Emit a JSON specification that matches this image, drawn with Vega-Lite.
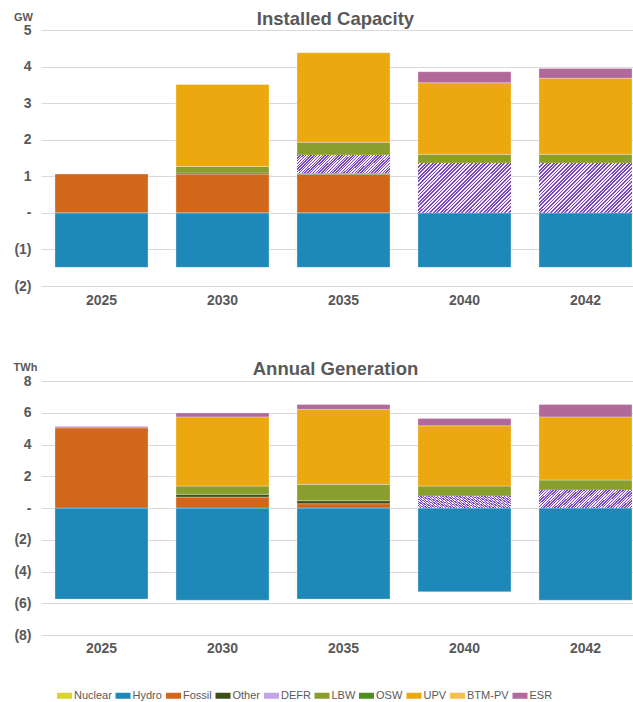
{
"$schema": "https://vega.github.io/schema/vega-lite/v6.json",
"background": "white",
"padding": {"left": 13, "top": 9, "right": 0, "bottom": 0},
"datasets": {
"cap": [
{"year": "2025", "type": "Hydro", "value": -1.49},
{"year": "2025", "type": "Fossil", "value": 1.06},
{"year": "2030", "type": "Hydro", "value": -1.49},
{"year": "2030", "type": "Fossil", "value": 1.06},
{"year": "2030", "type": "Other", "value": 0.03},
{"year": "2030", "type": "LBW", "value": 0.18},
{"year": "2030", "type": "UPV", "value": 2.24},
{"year": "2035", "type": "Hydro", "value": -1.49},
{"year": "2035", "type": "Fossil", "value": 1.05},
{"year": "2035", "type": "Other", "value": 0.03},
{"year": "2035", "type": "DEFR", "value": 0.50},
{"year": "2035", "type": "LBW", "value": 0.35},
{"year": "2035", "type": "UPV", "value": 2.45},
{"year": "2040", "type": "Hydro", "value": -1.49},
{"year": "2040", "type": "DEFR", "value": 1.36},
{"year": "2040", "type": "LBW", "value": 0.24},
{"year": "2040", "type": "UPV", "value": 1.96},
{"year": "2040", "type": "ESR", "value": 0.30},
{"year": "2042", "type": "Hydro", "value": -1.49},
{"year": "2042", "type": "DEFR", "value": 1.36},
{"year": "2042", "type": "LBW", "value": 0.24},
{"year": "2042", "type": "UPV", "value": 2.08},
{"year": "2042", "type": "ESR", "value": 0.27}
],
"gen": [
{"year": "2025", "type": "Hydro", "value": -5.74},
{"year": "2025", "type": "Fossil", "value": 5.05},
{"year": "2025", "type": "ESR", "value": 0.09},
{"year": "2030", "type": "Hydro", "value": -5.81},
{"year": "2030", "type": "Fossil", "value": 0.69},
{"year": "2030", "type": "Other", "value": 0.17},
{"year": "2030", "type": "LBW", "value": 0.52},
{"year": "2030", "type": "UPV", "value": 4.36},
{"year": "2030", "type": "ESR", "value": 0.25},
{"year": "2035", "type": "Hydro", "value": -5.74},
{"year": "2035", "type": "Fossil", "value": 0.27},
{"year": "2035", "type": "Other", "value": 0.19},
{"year": "2035", "type": "LBW", "value": 1.03},
{"year": "2035", "type": "UPV", "value": 4.72},
{"year": "2035", "type": "ESR", "value": 0.31},
{"year": "2040", "type": "Hydro", "value": -5.28},
{"year": "2040", "type": "DEFR", "value": 0.75},
{"year": "2040", "type": "LBW", "value": 0.63},
{"year": "2040", "type": "UPV", "value": 3.80},
{"year": "2040", "type": "ESR", "value": 0.46},
{"year": "2042", "type": "Hydro", "value": -5.81},
{"year": "2042", "type": "DEFR", "value": 1.13},
{"year": "2042", "type": "LBW", "value": 0.63},
{"year": "2042", "type": "UPV", "value": 3.98},
{"year": "2042", "type": "ESR", "value": 0.78}
]
},
"config": {
"font": "Liberation Sans",
"view": {"stroke": null},
"axis": {"labelFont": "Liberation Sans", "labelFontWeight": "bold", "labelFontSize": 14, "labelColor": "#595959", "gridColor": "#d9d9d9", "gridWidth": 1, "domain": false, "ticks": false},
"title": {"font": "Liberation Sans", "fontSize": 18.5, "fontWeight": "bold", "color": "#595959", "anchor": "middle", "frame": "group", "dx": -8, "offset": -17}
},
"spacing": 52,
"resolve": {"scale": {"color": "shared"}},
"vconcat": [
{
"data": {"name": "cap"},
"title": {"text": "Installed Capacity"},
"width": 605,
"height": 256,
"transform": [
{"calculate": "indexof(['Nuclear','Hydro','Fossil','Other','DEFR','LBW','OSW','UPV','BTM-PV','ESR'], datum.type)", "as": "order"},
{"stack": "value", "groupby": ["year"], "sort": [{"field": "order", "order": "ascending"}], "as": ["v0", "v1"], "offset": "zero"}
],
"encoding": {
"x": {"field": "year", "type": "nominal", "scale": {"paddingInner": 0.231, "paddingOuter": 0.1155}, "axis": {"title": null, "labelAngle": 0, "labelPadding": 7, "grid": false}},
"y": {"field": "v0", "type": "quantitative", "scale": {"domain": [-2, 5], "nice": false, "zero": false}, "axis": {"values": [-2, -1, 0, 1, 2, 3, 4, 5], "labelExpr": "datum.value == 0 ? '-' : (datum.value < 0 ? '(' + (-datum.value) + ')' : '' + datum.value)", "labelPadding": 10, "title": "GW", "titleAngle": 0, "titleAlign": "center", "titleBaseline": "alphabetic", "titleX": -18, "titleY": -10, "titleFontSize": 11, "titleFontWeight": "bold", "titleColor": "#595959", "titleFont": "Liberation Sans"}},
"y2": {"field": "v1"}
},
"layer": [
{"mark": {"type": "bar", "stroke": "#ffffff", "strokeWidth": 0.5, "strokeOpacity": 0.6},
"encoding": {"color": {"field": "type", "type": "nominal",
"scale": {"domain": ["Nuclear", "Hydro", "Fossil", "Other", "DEFR", "LBW", "OSW", "UPV", "BTM-PV", "ESR"], "range": ["#dcd42a", "#1e88b8", "#d2661a", "#3c4f16", "#c3a5e6", "#8a9e2e", "#4e8f1f", "#eca90f", "#f0c050", "#b0699a"]},
"legend": {"orient": "none", "legendX": 16, "legendY": 658, "direction": "horizontal", "columns": 10, "title": null, "symbolType": "M-1,-0.4H1V0.4H-1Z", "symbolSize": 225, "symbolStrokeWidth": 0, "labelFont": "Liberation Sans", "labelFontSize": 11, "labelColor": "#595959", "labelOffset": 2, "columnPadding": 3.5}}}},
{"transform": [{"filter": "datum.type == 'DEFR' && datum.year == '2035'"}], "mark": {"type": "bar", "fill": {"gradient": "linear", "x1": 0, "y1": 0, "x2": 1.153, "y2": 0.229, "stops": [
{"offset":0,"color":"#7b48c2"},
{"offset":0.0125,"color":"#7b48c2"},{"offset":0.0125,"color":"#f2ecfa"},{"offset":0.025,"color":"#f2ecfa"},{"offset":0.025,"color":"#7b48c2"},
{"offset":0.0375,"color":"#7b48c2"},{"offset":0.0375,"color":"#f2ecfa"},{"offset":0.05,"color":"#f2ecfa"},{"offset":0.05,"color":"#7b48c2"},
{"offset":0.0625,"color":"#7b48c2"},{"offset":0.0625,"color":"#f2ecfa"},{"offset":0.075,"color":"#f2ecfa"},{"offset":0.075,"color":"#7b48c2"},
{"offset":0.0875,"color":"#7b48c2"},{"offset":0.0875,"color":"#f2ecfa"},{"offset":0.1,"color":"#f2ecfa"},{"offset":0.1,"color":"#7b48c2"},
{"offset":0.1125,"color":"#7b48c2"},{"offset":0.1125,"color":"#f2ecfa"},{"offset":0.125,"color":"#f2ecfa"},{"offset":0.125,"color":"#7b48c2"},
{"offset":0.1375,"color":"#7b48c2"},{"offset":0.1375,"color":"#f2ecfa"},{"offset":0.15,"color":"#f2ecfa"},{"offset":0.15,"color":"#7b48c2"},
{"offset":0.1625,"color":"#7b48c2"},{"offset":0.1625,"color":"#f2ecfa"},{"offset":0.175,"color":"#f2ecfa"},{"offset":0.175,"color":"#7b48c2"},
{"offset":0.1875,"color":"#7b48c2"},{"offset":0.1875,"color":"#f2ecfa"},{"offset":0.2,"color":"#f2ecfa"},{"offset":0.2,"color":"#7b48c2"},
{"offset":0.2125,"color":"#7b48c2"},{"offset":0.2125,"color":"#f2ecfa"},{"offset":0.225,"color":"#f2ecfa"},{"offset":0.225,"color":"#7b48c2"},
{"offset":0.2375,"color":"#7b48c2"},{"offset":0.2375,"color":"#f2ecfa"},{"offset":0.25,"color":"#f2ecfa"},{"offset":0.25,"color":"#7b48c2"},
{"offset":0.2625,"color":"#7b48c2"},{"offset":0.2625,"color":"#f2ecfa"},{"offset":0.275,"color":"#f2ecfa"},{"offset":0.275,"color":"#7b48c2"},
{"offset":0.2875,"color":"#7b48c2"},{"offset":0.2875,"color":"#f2ecfa"},{"offset":0.3,"color":"#f2ecfa"},{"offset":0.3,"color":"#7b48c2"},
{"offset":0.3125,"color":"#7b48c2"},{"offset":0.3125,"color":"#f2ecfa"},{"offset":0.325,"color":"#f2ecfa"},{"offset":0.325,"color":"#7b48c2"},
{"offset":0.3375,"color":"#7b48c2"},{"offset":0.3375,"color":"#f2ecfa"},{"offset":0.35,"color":"#f2ecfa"},{"offset":0.35,"color":"#7b48c2"},
{"offset":0.3625,"color":"#7b48c2"},{"offset":0.3625,"color":"#f2ecfa"},{"offset":0.375,"color":"#f2ecfa"},{"offset":0.375,"color":"#7b48c2"},
{"offset":0.3875,"color":"#7b48c2"},{"offset":0.3875,"color":"#f2ecfa"},{"offset":0.4,"color":"#f2ecfa"},{"offset":0.4,"color":"#7b48c2"},
{"offset":0.4125,"color":"#7b48c2"},{"offset":0.4125,"color":"#f2ecfa"},{"offset":0.425,"color":"#f2ecfa"},{"offset":0.425,"color":"#7b48c2"},
{"offset":0.4375,"color":"#7b48c2"},{"offset":0.4375,"color":"#f2ecfa"},{"offset":0.45,"color":"#f2ecfa"},{"offset":0.45,"color":"#7b48c2"},
{"offset":0.4625,"color":"#7b48c2"},{"offset":0.4625,"color":"#f2ecfa"},{"offset":0.475,"color":"#f2ecfa"},{"offset":0.475,"color":"#7b48c2"},
{"offset":0.4875,"color":"#7b48c2"},{"offset":0.4875,"color":"#f2ecfa"},{"offset":0.5,"color":"#f2ecfa"},{"offset":0.5,"color":"#7b48c2"},
{"offset":0.5125,"color":"#7b48c2"},{"offset":0.5125,"color":"#f2ecfa"},{"offset":0.525,"color":"#f2ecfa"},{"offset":0.525,"color":"#7b48c2"},
{"offset":0.5375,"color":"#7b48c2"},{"offset":0.5375,"color":"#f2ecfa"},{"offset":0.55,"color":"#f2ecfa"},{"offset":0.55,"color":"#7b48c2"},
{"offset":0.5625,"color":"#7b48c2"},{"offset":0.5625,"color":"#f2ecfa"},{"offset":0.575,"color":"#f2ecfa"},{"offset":0.575,"color":"#7b48c2"},
{"offset":0.5875,"color":"#7b48c2"},{"offset":0.5875,"color":"#f2ecfa"},{"offset":0.6,"color":"#f2ecfa"},{"offset":0.6,"color":"#7b48c2"},
{"offset":0.6125,"color":"#7b48c2"},{"offset":0.6125,"color":"#f2ecfa"},{"offset":0.625,"color":"#f2ecfa"},{"offset":0.625,"color":"#7b48c2"},
{"offset":0.6375,"color":"#7b48c2"},{"offset":0.6375,"color":"#f2ecfa"},{"offset":0.65,"color":"#f2ecfa"},{"offset":0.65,"color":"#7b48c2"},
{"offset":0.6625,"color":"#7b48c2"},{"offset":0.6625,"color":"#f2ecfa"},{"offset":0.675,"color":"#f2ecfa"},{"offset":0.675,"color":"#7b48c2"},
{"offset":0.6875,"color":"#7b48c2"},{"offset":0.6875,"color":"#f2ecfa"},{"offset":0.7,"color":"#f2ecfa"},{"offset":0.7,"color":"#7b48c2"},
{"offset":0.7125,"color":"#7b48c2"},{"offset":0.7125,"color":"#f2ecfa"},{"offset":0.725,"color":"#f2ecfa"},{"offset":0.725,"color":"#7b48c2"},
{"offset":0.7375,"color":"#7b48c2"},{"offset":0.7375,"color":"#f2ecfa"},{"offset":0.75,"color":"#f2ecfa"},{"offset":0.75,"color":"#7b48c2"},
{"offset":0.7625,"color":"#7b48c2"},{"offset":0.7625,"color":"#f2ecfa"},{"offset":0.775,"color":"#f2ecfa"},{"offset":0.775,"color":"#7b48c2"},
{"offset":0.7875,"color":"#7b48c2"},{"offset":0.7875,"color":"#f2ecfa"},{"offset":0.8,"color":"#f2ecfa"},{"offset":0.8,"color":"#7b48c2"},
{"offset":0.8125,"color":"#7b48c2"},{"offset":0.8125,"color":"#f2ecfa"},{"offset":0.825,"color":"#f2ecfa"},{"offset":0.825,"color":"#7b48c2"},
{"offset":0.8375,"color":"#7b48c2"},{"offset":0.8375,"color":"#f2ecfa"},{"offset":0.85,"color":"#f2ecfa"},{"offset":0.85,"color":"#7b48c2"},
{"offset":0.8625,"color":"#7b48c2"},{"offset":0.8625,"color":"#f2ecfa"},{"offset":0.875,"color":"#f2ecfa"},{"offset":0.875,"color":"#7b48c2"},
{"offset":0.8875,"color":"#7b48c2"},{"offset":0.8875,"color":"#f2ecfa"},{"offset":0.9,"color":"#f2ecfa"},{"offset":0.9,"color":"#7b48c2"},
{"offset":0.9125,"color":"#7b48c2"},{"offset":0.9125,"color":"#f2ecfa"},{"offset":0.925,"color":"#f2ecfa"},{"offset":0.925,"color":"#7b48c2"},
{"offset":0.9375,"color":"#7b48c2"},{"offset":0.9375,"color":"#f2ecfa"},{"offset":0.95,"color":"#f2ecfa"},{"offset":0.95,"color":"#7b48c2"},
{"offset":0.9625,"color":"#7b48c2"},{"offset":0.9625,"color":"#f2ecfa"},{"offset":0.975,"color":"#f2ecfa"},{"offset":0.975,"color":"#7b48c2"},
{"offset":0.9875,"color":"#7b48c2"},{"offset":0.9875,"color":"#f2ecfa"},{"offset":1,"color":"#f2ecfa"}
]}}},
{"transform": [{"filter": "datum.type == 'DEFR' && datum.year != '2035'"}], "mark": {"type": "bar", "fill": {"gradient": "linear", "x1": 0, "y1": 0, "x2": 1.193, "y2": 0.639, "stops": [
{"offset":0,"color":"#7b48c2"},
{"offset":0.0125,"color":"#7b48c2"},{"offset":0.0125,"color":"#f2ecfa"},{"offset":0.025,"color":"#f2ecfa"},{"offset":0.025,"color":"#7b48c2"},
{"offset":0.0375,"color":"#7b48c2"},{"offset":0.0375,"color":"#f2ecfa"},{"offset":0.05,"color":"#f2ecfa"},{"offset":0.05,"color":"#7b48c2"},
{"offset":0.0625,"color":"#7b48c2"},{"offset":0.0625,"color":"#f2ecfa"},{"offset":0.075,"color":"#f2ecfa"},{"offset":0.075,"color":"#7b48c2"},
{"offset":0.0875,"color":"#7b48c2"},{"offset":0.0875,"color":"#f2ecfa"},{"offset":0.1,"color":"#f2ecfa"},{"offset":0.1,"color":"#7b48c2"},
{"offset":0.1125,"color":"#7b48c2"},{"offset":0.1125,"color":"#f2ecfa"},{"offset":0.125,"color":"#f2ecfa"},{"offset":0.125,"color":"#7b48c2"},
{"offset":0.1375,"color":"#7b48c2"},{"offset":0.1375,"color":"#f2ecfa"},{"offset":0.15,"color":"#f2ecfa"},{"offset":0.15,"color":"#7b48c2"},
{"offset":0.1625,"color":"#7b48c2"},{"offset":0.1625,"color":"#f2ecfa"},{"offset":0.175,"color":"#f2ecfa"},{"offset":0.175,"color":"#7b48c2"},
{"offset":0.1875,"color":"#7b48c2"},{"offset":0.1875,"color":"#f2ecfa"},{"offset":0.2,"color":"#f2ecfa"},{"offset":0.2,"color":"#7b48c2"},
{"offset":0.2125,"color":"#7b48c2"},{"offset":0.2125,"color":"#f2ecfa"},{"offset":0.225,"color":"#f2ecfa"},{"offset":0.225,"color":"#7b48c2"},
{"offset":0.2375,"color":"#7b48c2"},{"offset":0.2375,"color":"#f2ecfa"},{"offset":0.25,"color":"#f2ecfa"},{"offset":0.25,"color":"#7b48c2"},
{"offset":0.2625,"color":"#7b48c2"},{"offset":0.2625,"color":"#f2ecfa"},{"offset":0.275,"color":"#f2ecfa"},{"offset":0.275,"color":"#7b48c2"},
{"offset":0.2875,"color":"#7b48c2"},{"offset":0.2875,"color":"#f2ecfa"},{"offset":0.3,"color":"#f2ecfa"},{"offset":0.3,"color":"#7b48c2"},
{"offset":0.3125,"color":"#7b48c2"},{"offset":0.3125,"color":"#f2ecfa"},{"offset":0.325,"color":"#f2ecfa"},{"offset":0.325,"color":"#7b48c2"},
{"offset":0.3375,"color":"#7b48c2"},{"offset":0.3375,"color":"#f2ecfa"},{"offset":0.35,"color":"#f2ecfa"},{"offset":0.35,"color":"#7b48c2"},
{"offset":0.3625,"color":"#7b48c2"},{"offset":0.3625,"color":"#f2ecfa"},{"offset":0.375,"color":"#f2ecfa"},{"offset":0.375,"color":"#7b48c2"},
{"offset":0.3875,"color":"#7b48c2"},{"offset":0.3875,"color":"#f2ecfa"},{"offset":0.4,"color":"#f2ecfa"},{"offset":0.4,"color":"#7b48c2"},
{"offset":0.4125,"color":"#7b48c2"},{"offset":0.4125,"color":"#f2ecfa"},{"offset":0.425,"color":"#f2ecfa"},{"offset":0.425,"color":"#7b48c2"},
{"offset":0.4375,"color":"#7b48c2"},{"offset":0.4375,"color":"#f2ecfa"},{"offset":0.45,"color":"#f2ecfa"},{"offset":0.45,"color":"#7b48c2"},
{"offset":0.4625,"color":"#7b48c2"},{"offset":0.4625,"color":"#f2ecfa"},{"offset":0.475,"color":"#f2ecfa"},{"offset":0.475,"color":"#7b48c2"},
{"offset":0.4875,"color":"#7b48c2"},{"offset":0.4875,"color":"#f2ecfa"},{"offset":0.5,"color":"#f2ecfa"},{"offset":0.5,"color":"#7b48c2"},
{"offset":0.5125,"color":"#7b48c2"},{"offset":0.5125,"color":"#f2ecfa"},{"offset":0.525,"color":"#f2ecfa"},{"offset":0.525,"color":"#7b48c2"},
{"offset":0.5375,"color":"#7b48c2"},{"offset":0.5375,"color":"#f2ecfa"},{"offset":0.55,"color":"#f2ecfa"},{"offset":0.55,"color":"#7b48c2"},
{"offset":0.5625,"color":"#7b48c2"},{"offset":0.5625,"color":"#f2ecfa"},{"offset":0.575,"color":"#f2ecfa"},{"offset":0.575,"color":"#7b48c2"},
{"offset":0.5875,"color":"#7b48c2"},{"offset":0.5875,"color":"#f2ecfa"},{"offset":0.6,"color":"#f2ecfa"},{"offset":0.6,"color":"#7b48c2"},
{"offset":0.6125,"color":"#7b48c2"},{"offset":0.6125,"color":"#f2ecfa"},{"offset":0.625,"color":"#f2ecfa"},{"offset":0.625,"color":"#7b48c2"},
{"offset":0.6375,"color":"#7b48c2"},{"offset":0.6375,"color":"#f2ecfa"},{"offset":0.65,"color":"#f2ecfa"},{"offset":0.65,"color":"#7b48c2"},
{"offset":0.6625,"color":"#7b48c2"},{"offset":0.6625,"color":"#f2ecfa"},{"offset":0.675,"color":"#f2ecfa"},{"offset":0.675,"color":"#7b48c2"},
{"offset":0.6875,"color":"#7b48c2"},{"offset":0.6875,"color":"#f2ecfa"},{"offset":0.7,"color":"#f2ecfa"},{"offset":0.7,"color":"#7b48c2"},
{"offset":0.7125,"color":"#7b48c2"},{"offset":0.7125,"color":"#f2ecfa"},{"offset":0.725,"color":"#f2ecfa"},{"offset":0.725,"color":"#7b48c2"},
{"offset":0.7375,"color":"#7b48c2"},{"offset":0.7375,"color":"#f2ecfa"},{"offset":0.75,"color":"#f2ecfa"},{"offset":0.75,"color":"#7b48c2"},
{"offset":0.7625,"color":"#7b48c2"},{"offset":0.7625,"color":"#f2ecfa"},{"offset":0.775,"color":"#f2ecfa"},{"offset":0.775,"color":"#7b48c2"},
{"offset":0.7875,"color":"#7b48c2"},{"offset":0.7875,"color":"#f2ecfa"},{"offset":0.8,"color":"#f2ecfa"},{"offset":0.8,"color":"#7b48c2"},
{"offset":0.8125,"color":"#7b48c2"},{"offset":0.8125,"color":"#f2ecfa"},{"offset":0.825,"color":"#f2ecfa"},{"offset":0.825,"color":"#7b48c2"},
{"offset":0.8375,"color":"#7b48c2"},{"offset":0.8375,"color":"#f2ecfa"},{"offset":0.85,"color":"#f2ecfa"},{"offset":0.85,"color":"#7b48c2"},
{"offset":0.8625,"color":"#7b48c2"},{"offset":0.8625,"color":"#f2ecfa"},{"offset":0.875,"color":"#f2ecfa"},{"offset":0.875,"color":"#7b48c2"},
{"offset":0.8875,"color":"#7b48c2"},{"offset":0.8875,"color":"#f2ecfa"},{"offset":0.9,"color":"#f2ecfa"},{"offset":0.9,"color":"#7b48c2"},
{"offset":0.9125,"color":"#7b48c2"},{"offset":0.9125,"color":"#f2ecfa"},{"offset":0.925,"color":"#f2ecfa"},{"offset":0.925,"color":"#7b48c2"},
{"offset":0.9375,"color":"#7b48c2"},{"offset":0.9375,"color":"#f2ecfa"},{"offset":0.95,"color":"#f2ecfa"},{"offset":0.95,"color":"#7b48c2"},
{"offset":0.9625,"color":"#7b48c2"},{"offset":0.9625,"color":"#f2ecfa"},{"offset":0.975,"color":"#f2ecfa"},{"offset":0.975,"color":"#7b48c2"},
{"offset":0.9875,"color":"#7b48c2"},{"offset":0.9875,"color":"#f2ecfa"},{"offset":1,"color":"#f2ecfa"}
]}}}
]
},
{
"data": {"name": "gen"},
"title": {"text": "Annual Generation"},
"width": 605,
"height": 254,
"transform": [
{"calculate": "indexof(['Nuclear','Hydro','Fossil','Other','DEFR','LBW','OSW','UPV','BTM-PV','ESR'], datum.type)", "as": "order"},
{"stack": "value", "groupby": ["year"], "sort": [{"field": "order", "order": "ascending"}], "as": ["v0", "v1"], "offset": "zero"}
],
"encoding": {
"x": {"field": "year", "type": "nominal", "scale": {"paddingInner": 0.231, "paddingOuter": 0.1155}, "axis": {"title": null, "labelAngle": 0, "labelPadding": 6, "grid": false}},
"y": {"field": "v0", "type": "quantitative", "scale": {"domain": [-8, 8], "nice": false, "zero": false}, "axis": {"values": [-8, -6, -4, -2, 0, 2, 4, 6, 8], "labelExpr": "datum.value == 0 ? '-' : (datum.value < 0 ? '(' + (-datum.value) + ')' : '' + datum.value)", "labelPadding": 10, "title": "TWh", "titleAngle": 0, "titleAlign": "center", "titleBaseline": "alphabetic", "titleX": -16, "titleY": -11, "titleFontSize": 11, "titleFontWeight": "bold", "titleColor": "#595959", "titleFont": "Liberation Sans"}},
"y2": {"field": "v1"}
},
"layer": [
{"mark": {"type": "bar", "stroke": "#ffffff", "strokeWidth": 0.5, "strokeOpacity": 0.6},
"encoding": {"color": {"field": "type", "type": "nominal"}}},
{"transform": [{"filter": "datum.type == 'DEFR'"}], "mark": {"type": "bar", "fill": {"gradient": "linear", "x1": 0, "y1": 0, "x2": 1.153, "y2": 0.229, "stops": [
{"offset":0,"color":"#7b48c2"},
{"offset":0.0125,"color":"#7b48c2"},{"offset":0.0125,"color":"#f2ecfa"},{"offset":0.025,"color":"#f2ecfa"},{"offset":0.025,"color":"#7b48c2"},
{"offset":0.0375,"color":"#7b48c2"},{"offset":0.0375,"color":"#f2ecfa"},{"offset":0.05,"color":"#f2ecfa"},{"offset":0.05,"color":"#7b48c2"},
{"offset":0.0625,"color":"#7b48c2"},{"offset":0.0625,"color":"#f2ecfa"},{"offset":0.075,"color":"#f2ecfa"},{"offset":0.075,"color":"#7b48c2"},
{"offset":0.0875,"color":"#7b48c2"},{"offset":0.0875,"color":"#f2ecfa"},{"offset":0.1,"color":"#f2ecfa"},{"offset":0.1,"color":"#7b48c2"},
{"offset":0.1125,"color":"#7b48c2"},{"offset":0.1125,"color":"#f2ecfa"},{"offset":0.125,"color":"#f2ecfa"},{"offset":0.125,"color":"#7b48c2"},
{"offset":0.1375,"color":"#7b48c2"},{"offset":0.1375,"color":"#f2ecfa"},{"offset":0.15,"color":"#f2ecfa"},{"offset":0.15,"color":"#7b48c2"},
{"offset":0.1625,"color":"#7b48c2"},{"offset":0.1625,"color":"#f2ecfa"},{"offset":0.175,"color":"#f2ecfa"},{"offset":0.175,"color":"#7b48c2"},
{"offset":0.1875,"color":"#7b48c2"},{"offset":0.1875,"color":"#f2ecfa"},{"offset":0.2,"color":"#f2ecfa"},{"offset":0.2,"color":"#7b48c2"},
{"offset":0.2125,"color":"#7b48c2"},{"offset":0.2125,"color":"#f2ecfa"},{"offset":0.225,"color":"#f2ecfa"},{"offset":0.225,"color":"#7b48c2"},
{"offset":0.2375,"color":"#7b48c2"},{"offset":0.2375,"color":"#f2ecfa"},{"offset":0.25,"color":"#f2ecfa"},{"offset":0.25,"color":"#7b48c2"},
{"offset":0.2625,"color":"#7b48c2"},{"offset":0.2625,"color":"#f2ecfa"},{"offset":0.275,"color":"#f2ecfa"},{"offset":0.275,"color":"#7b48c2"},
{"offset":0.2875,"color":"#7b48c2"},{"offset":0.2875,"color":"#f2ecfa"},{"offset":0.3,"color":"#f2ecfa"},{"offset":0.3,"color":"#7b48c2"},
{"offset":0.3125,"color":"#7b48c2"},{"offset":0.3125,"color":"#f2ecfa"},{"offset":0.325,"color":"#f2ecfa"},{"offset":0.325,"color":"#7b48c2"},
{"offset":0.3375,"color":"#7b48c2"},{"offset":0.3375,"color":"#f2ecfa"},{"offset":0.35,"color":"#f2ecfa"},{"offset":0.35,"color":"#7b48c2"},
{"offset":0.3625,"color":"#7b48c2"},{"offset":0.3625,"color":"#f2ecfa"},{"offset":0.375,"color":"#f2ecfa"},{"offset":0.375,"color":"#7b48c2"},
{"offset":0.3875,"color":"#7b48c2"},{"offset":0.3875,"color":"#f2ecfa"},{"offset":0.4,"color":"#f2ecfa"},{"offset":0.4,"color":"#7b48c2"},
{"offset":0.4125,"color":"#7b48c2"},{"offset":0.4125,"color":"#f2ecfa"},{"offset":0.425,"color":"#f2ecfa"},{"offset":0.425,"color":"#7b48c2"},
{"offset":0.4375,"color":"#7b48c2"},{"offset":0.4375,"color":"#f2ecfa"},{"offset":0.45,"color":"#f2ecfa"},{"offset":0.45,"color":"#7b48c2"},
{"offset":0.4625,"color":"#7b48c2"},{"offset":0.4625,"color":"#f2ecfa"},{"offset":0.475,"color":"#f2ecfa"},{"offset":0.475,"color":"#7b48c2"},
{"offset":0.4875,"color":"#7b48c2"},{"offset":0.4875,"color":"#f2ecfa"},{"offset":0.5,"color":"#f2ecfa"},{"offset":0.5,"color":"#7b48c2"},
{"offset":0.5125,"color":"#7b48c2"},{"offset":0.5125,"color":"#f2ecfa"},{"offset":0.525,"color":"#f2ecfa"},{"offset":0.525,"color":"#7b48c2"},
{"offset":0.5375,"color":"#7b48c2"},{"offset":0.5375,"color":"#f2ecfa"},{"offset":0.55,"color":"#f2ecfa"},{"offset":0.55,"color":"#7b48c2"},
{"offset":0.5625,"color":"#7b48c2"},{"offset":0.5625,"color":"#f2ecfa"},{"offset":0.575,"color":"#f2ecfa"},{"offset":0.575,"color":"#7b48c2"},
{"offset":0.5875,"color":"#7b48c2"},{"offset":0.5875,"color":"#f2ecfa"},{"offset":0.6,"color":"#f2ecfa"},{"offset":0.6,"color":"#7b48c2"},
{"offset":0.6125,"color":"#7b48c2"},{"offset":0.6125,"color":"#f2ecfa"},{"offset":0.625,"color":"#f2ecfa"},{"offset":0.625,"color":"#7b48c2"},
{"offset":0.6375,"color":"#7b48c2"},{"offset":0.6375,"color":"#f2ecfa"},{"offset":0.65,"color":"#f2ecfa"},{"offset":0.65,"color":"#7b48c2"},
{"offset":0.6625,"color":"#7b48c2"},{"offset":0.6625,"color":"#f2ecfa"},{"offset":0.675,"color":"#f2ecfa"},{"offset":0.675,"color":"#7b48c2"},
{"offset":0.6875,"color":"#7b48c2"},{"offset":0.6875,"color":"#f2ecfa"},{"offset":0.7,"color":"#f2ecfa"},{"offset":0.7,"color":"#7b48c2"},
{"offset":0.7125,"color":"#7b48c2"},{"offset":0.7125,"color":"#f2ecfa"},{"offset":0.725,"color":"#f2ecfa"},{"offset":0.725,"color":"#7b48c2"},
{"offset":0.7375,"color":"#7b48c2"},{"offset":0.7375,"color":"#f2ecfa"},{"offset":0.75,"color":"#f2ecfa"},{"offset":0.75,"color":"#7b48c2"},
{"offset":0.7625,"color":"#7b48c2"},{"offset":0.7625,"color":"#f2ecfa"},{"offset":0.775,"color":"#f2ecfa"},{"offset":0.775,"color":"#7b48c2"},
{"offset":0.7875,"color":"#7b48c2"},{"offset":0.7875,"color":"#f2ecfa"},{"offset":0.8,"color":"#f2ecfa"},{"offset":0.8,"color":"#7b48c2"},
{"offset":0.8125,"color":"#7b48c2"},{"offset":0.8125,"color":"#f2ecfa"},{"offset":0.825,"color":"#f2ecfa"},{"offset":0.825,"color":"#7b48c2"},
{"offset":0.8375,"color":"#7b48c2"},{"offset":0.8375,"color":"#f2ecfa"},{"offset":0.85,"color":"#f2ecfa"},{"offset":0.85,"color":"#7b48c2"},
{"offset":0.8625,"color":"#7b48c2"},{"offset":0.8625,"color":"#f2ecfa"},{"offset":0.875,"color":"#f2ecfa"},{"offset":0.875,"color":"#7b48c2"},
{"offset":0.8875,"color":"#7b48c2"},{"offset":0.8875,"color":"#f2ecfa"},{"offset":0.9,"color":"#f2ecfa"},{"offset":0.9,"color":"#7b48c2"},
{"offset":0.9125,"color":"#7b48c2"},{"offset":0.9125,"color":"#f2ecfa"},{"offset":0.925,"color":"#f2ecfa"},{"offset":0.925,"color":"#7b48c2"},
{"offset":0.9375,"color":"#7b48c2"},{"offset":0.9375,"color":"#f2ecfa"},{"offset":0.95,"color":"#f2ecfa"},{"offset":0.95,"color":"#7b48c2"},
{"offset":0.9625,"color":"#7b48c2"},{"offset":0.9625,"color":"#f2ecfa"},{"offset":0.975,"color":"#f2ecfa"},{"offset":0.975,"color":"#7b48c2"},
{"offset":0.9875,"color":"#7b48c2"},{"offset":0.9875,"color":"#f2ecfa"},{"offset":1,"color":"#f2ecfa"}
]}}}
]
}
]
}
